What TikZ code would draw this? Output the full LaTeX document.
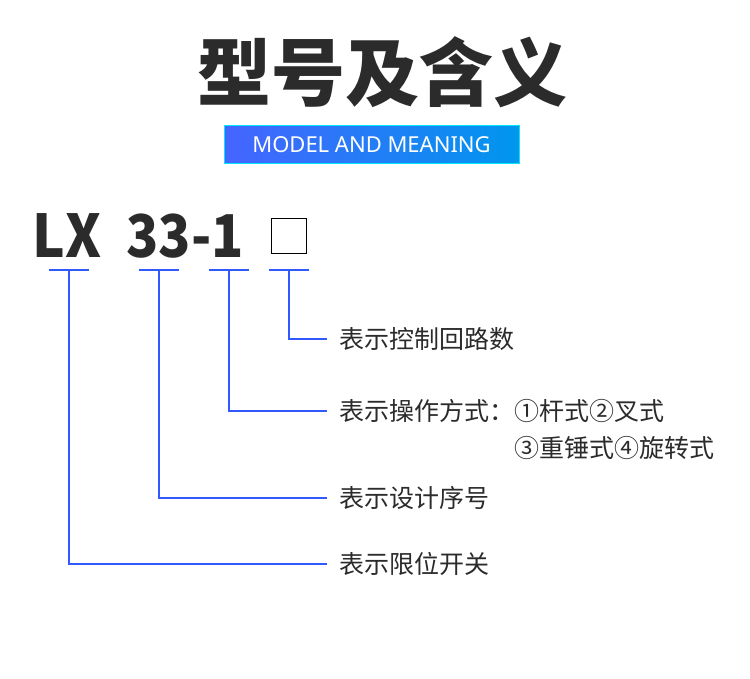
\documentclass[tikz,border=0pt]{standalone}
\usepackage{fontspec}
\setmainfont{Noto Sans CJK SC}
\newfontfamily\latinsans{Noto Sans}
\usepackage{tikz}
\usetikzlibrary{positioning}
\definecolor{ink}{RGB}{43,43,43}
\definecolor{lineblue}{RGB}{50,88,255}
\definecolor{bandleft}{RGB}{70,100,255}
\definecolor{bandright}{RGB}{0,150,238}
\definecolor{bandedge}{RGB}{0,230,255}

\begin{document}
\begin{tikzpicture}[x=1pt,y=-1pt,
  every node/.style={text=ink},
  title/.style={font=\fontsize{74}{80}\selectfont\bfseries,inner sep=0pt},
  band/.style={draw=bandedge,line width=1pt,left color=bandleft,right color=bandright,
    minimum width=295pt,minimum height=38pt,inner sep=0pt,
    font=\latinsans\fontsize{22}{24}\selectfont,text=white},
  code/.style={font=\fontsize{59}{64}\selectfont\bfseries,inner sep=0pt,anchor=base},
  slot/.style={draw=black,line width=1.6pt,minimum size=35pt,inner sep=0pt},
  mean/.style={font=\fontsize{25}{30}\selectfont,inner xsep=12pt,inner ysep=0pt,anchor=west},
  lead/.style={draw=lineblue,line width=2.3pt}]
 \useasboundingbox (0,0) rectangle (750,679);
 \node[title] (head) at (382,72) {型号及含义};
 \node[band] (sub) at (371.5,145) {MODEL AND MEANING};
 \node[code] (lx) at (67,258) {\scalebox{0.93}[1]{LX}};
 \node[code] (num) at (185,258) {\scalebox{0.9}[1]{33-1}};
 \node[slot] (box) at (289,236) {};
 % underline bars
 \coordinate (uLX) at (69,270);
 \coordinate (uSer) at (159,270);
 \coordinate (uOp) at (229,270);
 \coordinate (uBox) at (289,270);
 \foreach \u in {uLX,uSer,uOp,uBox}
  \draw[lead] ([xshift=-20pt]\u) -- ([xshift=20pt]\u);
 % meanings
 \node[mean] (mBox) at (327,339) {表示控制回路数};
 \node[mean] (mOp) at (327,411) {表示操作方式：①杆式②叉式};
 \node[mean,anchor=west,inner xsep=0pt] (mOp2) at (514,448) {③重锤式④旋转式};
 \node[mean] (mSer) at (327,498) {表示设计序号};
 \node[mean] (mLX) at (327,564) {表示限位开关};
 \draw[lead] (uBox) |- (mBox.west);
 \draw[lead] (uOp) |- (mOp.west);
 \draw[lead] (uSer) |- (mSer.west);
 \draw[lead] (uLX) |- (mLX.west);
\end{tikzpicture}
\end{document}
